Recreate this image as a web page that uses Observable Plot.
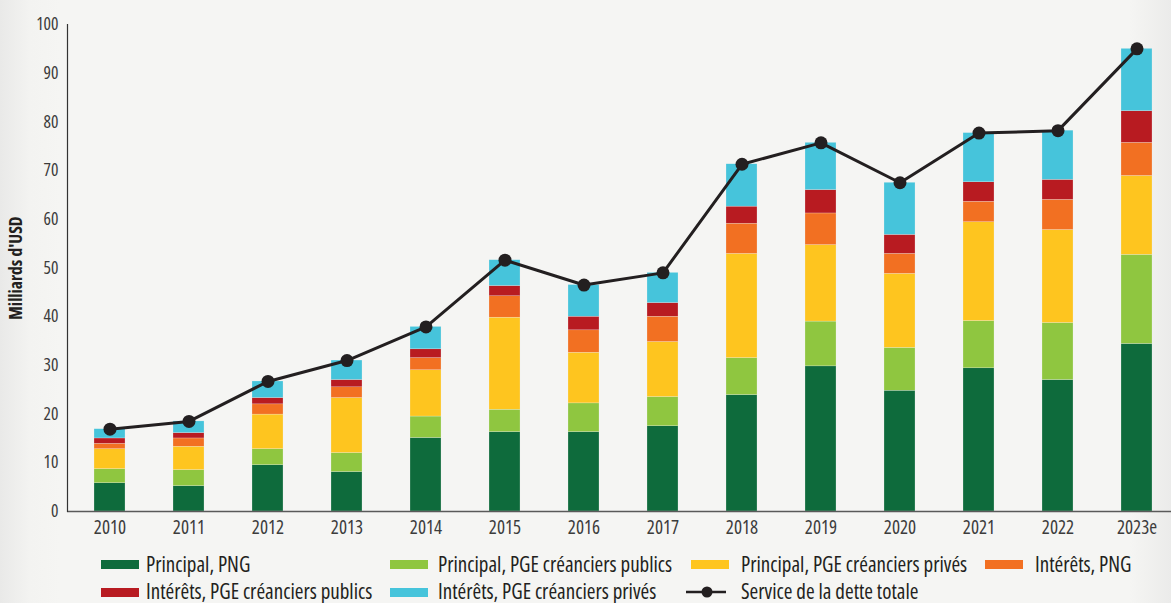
<!DOCTYPE html>
<html>
<head>
<meta charset="utf-8">
<script src="https://cdn.jsdelivr.net/npm/d3@7"></script>
<script src="https://cdn.jsdelivr.net/npm/@observablehq/plot@0.6"></script>
<style>
  html, body { margin: 0; padding: 0; }
  body {
    width: 1171px; height: 603px; overflow: hidden;
    background: linear-gradient(to right, #e9e9e8 0px, #f3f3f1 30px, #f5f5f3 60px, #f5f5f3 1130px, #ebebea 1171px);
    font-family: "Open Sans", sans-serif;
    font-stretch: condensed;
    color: #231f20;
  }
  #chart svg { display: block; background: transparent; }
  #chart svg text { font-stretch: condensed; }
  #chart svg g[aria-label="y-axis label"] text { font-weight: bold; font-size: 17.5px; fill: #231f20; }
  #legend {
    position: relative;
    height: 56px;
    margin-top: 5px;
    font-size: 21px;
  }
  .item { position: absolute; display: flex; align-items: center; white-space: nowrap; height: 29px; }
  .sw { width: 38px; height: 9px; flex: none; }
  .lbl { position: absolute; top: 50%; transform: translateY(-52%); line-height: 1; }
</style>
</head>
<body>
<div id="chart"></div>
<div id="legend"></div>
<script>
const years = ["2010","2011","2012","2013","2014","2015","2016","2017","2018","2019","2020","2021","2022","2023e"];
const seriesNames = [
  "Principal, PNG",
  "Principal, PGE créanciers publics",
  "Principal, PGE créanciers privés",
  "Intérêts, PNG",
  "Intérêts, PGE créanciers publics",
  "Intérêts, PGE créanciers privés"
];
const seriesColors = ["#0e6b3c", "#8fc640", "#fec51f", "#f27022", "#b81b21", "#46c4db"];
const principalPNG      = [5.8, 5.2, 9.5, 8.1, 15.1, 16.3, 16.3, 17.5, 23.9, 29.8, 24.8, 29.4, 27.0, 34.4];
const principalPGEPub   = [2.9, 3.3, 3.3, 3.9, 4.4, 4.6, 5.9, 6.0, 7.6, 9.2, 8.8, 9.7, 11.7, 18.3];
const principalPGEPriv  = [4.1, 4.8, 7.1, 11.3, 9.5, 18.9, 10.4, 11.3, 21.4, 15.7, 15.2, 20.3, 19.1, 16.2];
const interetsPNG       = [1.1, 1.7, 2.1, 2.2, 2.5, 4.4, 4.6, 5.2, 6.2, 6.5, 4.1, 4.2, 6.2, 6.8];
const interetsPGEPub    = [1.1, 1.1, 1.3, 1.5, 1.8, 2.1, 2.8, 2.8, 3.5, 4.8, 3.9, 4.0, 4.1, 6.5];
const interetsPGEPriv   = [1.9, 2.4, 3.4, 4.0, 4.6, 5.3, 6.5, 6.2, 8.7, 9.7, 10.7, 10.1, 10.1, 12.8];
const totalService      = [16.9, 18.5, 26.7, 31.0, 37.9, 51.6, 46.5, 49.0, 71.3, 75.7, 67.5, 77.7, 78.2, 95.0];
const lineName = "Service de la dette totale";
const yTicks = [0, 10, 20, 30, 40, 50, 60, 70, 80, 90, 100];
const yLabel = "Milliards d'USD";

const seriesValues = [principalPNG, principalPGEPub, principalPGEPriv, interetsPNG, interetsPGEPub, interetsPGEPriv];
const barData = [];
years.forEach((yr, i) => {
  seriesNames.forEach((s, j) => barData.push({year: yr, series: s, value: seriesValues[j][i]}));
});
const lineData = years.map((yr, i) => ({year: yr, total: totalService[i]}));

const chart = Plot.plot({
  width: 1171,
  height: 545,
  marginLeft: 67,
  marginRight: 0,
  marginTop: 24,
  marginBottom: 34,
  style: {fontFamily: '"Open Sans", sans-serif', fontSize: "17px", color: "#3c3c3c", background: "transparent"},
  x: {domain: years, range: [67, 1180], paddingInner: 0.606, paddingOuter: 0.3, align: 0.5},
  y: {domain: [0, 100]},
  color: {domain: seriesNames, range: seriesColors},
  marks: [
    Plot.barY(barData, {x: "year", y: "value", fill: "series", stroke: "#f5f5f3", strokeWidth: 0.4, strokeOpacity: 0.6}),
    Plot.axisY({ticks: yTicks, tickSize: 0, tickPadding: 9, fontSize: 17.5, label: yLabel, labelAnchor: "center", labelArrow: "none", labelOffset: 58}),
    Plot.axisX({tickSize: 0, tickPadding: 9, fontSize: 19, label: null}),
    Plot.ruleY([0], {stroke: "#5a5a5a", strokeWidth: 1.5}),
    Plot.frame({anchor: "left", stroke: "#333", strokeWidth: 1.2}),
    Plot.line(lineData, {x: "year", y: "total", stroke: "#231f20", strokeWidth: 3}),
    Plot.dot(lineData, {x: "year", y: "total", r: 6.5, fill: "#231f20", stroke: "none"})
  ]
});
document.getElementById("chart").appendChild(chart);

// Legend (positions of the columns, in px)
const legend = document.getElementById("legend");
const colSwatch = [101, 390, 691, 985];
const colText = [146, 438, 741, 1035];
const items = seriesNames.map((name, j) => ({name, color: seriesColors[j], kind: "bar"}));
items.push({name: lineName, kind: "line"});
items.forEach((it, k) => {
  const col = k % 4, row = Math.floor(k / 4);
  const el = document.createElement("div");
  el.className = "item";
  el.style.left = colSwatch[col] + "px";
  el.style.top = (row * 27.5) + "px";
  el.style.width = "300px";
  if (it.kind === "bar") {
    const sw = document.createElement("span");
    sw.className = "sw";
    sw.style.background = it.color;
    el.appendChild(sw);
  } else {
    el.style.left = (colSwatch[col] - 5) + "px";
    el.innerHTML = '<svg width="40" height="16" style="flex:none"><line x1="0" y1="8" x2="40" y2="8" stroke="#231f20" stroke-width="2.5"/><circle cx="21" cy="8" r="5.5" fill="#231f20"/></svg>';
  }
  const lbl = document.createElement("span");
  lbl.className = "lbl";
  lbl.style.left = (colText[col] - colSwatch[col] + (it.kind === "line" ? 5 : 0)) + "px";
  lbl.textContent = it.name;
  el.appendChild(lbl);
  legend.appendChild(el);
});
</script>
</body>
</html>
